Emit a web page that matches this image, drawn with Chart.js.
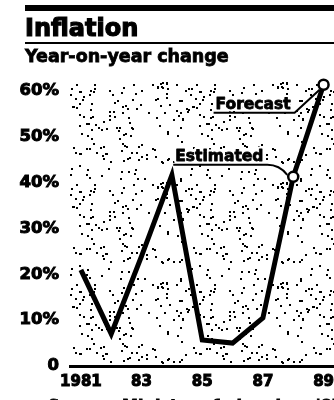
<!DOCTYPE html>
<html>
<head>
<meta charset="utf-8">
<script src="https://cdn.jsdelivr.net/npm/chart.js@4/dist/chart.umd.min.js"></script>
<style>
html,body{margin:0;padding:0;background:#fff;width:334px;height:400px;overflow:hidden;position:relative;font-family:"DejaVu Sans",sans-serif;font-weight:bold;color:#000}
#wrap{position:absolute;left:0;top:0;width:352px;height:400px}
.rule{position:absolute;left:25px;width:340px;background:#000}
.txt{position:absolute;left:25px;white-space:nowrap;z-index:2;-webkit-text-stroke:0.8px #000}
#title{top:16px;font-size:24px;line-height:24px;-webkit-text-stroke:1.2px #000}
#sub{top:48px;font-size:17.5px;line-height:17px}
#src{top:398px;left:48px;font-size:16px;line-height:16px}
</style>
</head>
<body>
<div class="rule" style="top:5px;height:6px"></div>
<div class="txt" id="title">Inflation</div>
<div class="rule" style="top:42px;height:2px"></div>
<div class="txt" id="sub">Year-on-year change</div>
<div id="wrap"><canvas id="c" width="352" height="400"></canvas></div>
<div class="txt" id="src">Source: Ministry of planning; '87 estimated</div>
<script>
// ---- data ----
const years = [1981, 1982, 1983, 1984, 1985, 1986, 1987, 1988, 1989];
const inflation = [21, 7, 24, 41.7, 5.7, 5, 10.5, 41.3, 61.4];
const notes = ['', '', '', '', '', '', '', 'Estimated', 'Forecast'];
const yTicks = [0, 10, 20, 30, 40, 50, 60];
const yTickLabels = ['0', '10%', '20%', '30%', '40%', '50%', '60%'];
const xTicks = [1981, 1983, 1985, 1987, 1989];
const xTickLabels = ['1981', '83', '85', '87', '89'];

const FONT = '"DejaVu Sans", sans-serif';

// decorative stipple texture (deterministic hash placement; purely a background style)
function makeStipple(ctx) {
  const W = 120, H = 100;
  const c = document.createElement('canvas');
  c.width = W; c.height = H;
  const g = c.getContext('2d');
  g.fillStyle = '#000';
  const h = v => { const s = Math.sin(v) * 43758.5453; return s - Math.floor(s); };
  for (let i = 1; i <= 165; i++) {
    const x = Math.floor(h(i * 12.9898) * (W - 1));
    const y = Math.floor(h(i * 78.233) * (H - 1));
    g.fillRect(x, y, 2, 2);
  }
  return ctx.createPattern(c, 'repeat');
}

const stipplePlugin = {
  id: 'stipple',
  beforeDatasetsDraw(chart) {
    const {ctx, chartArea: a} = chart;
    ctx.save();
    ctx.fillStyle = makeStipple(ctx);
    ctx.translate(a.left, a.top);
    ctx.fillRect(0, 0, a.right - a.left, a.bottom - a.top);
    ctx.restore();
  }
};

// label layout relative to the noted point (style only)
const noteStyle = {
  'Forecast':  {dx: -108, uy: 28, tail: 'line'},
  'Estimated': {dx: -118, uy: -12, tail: 'curve'}
};

const notePlugin = {
  id: 'notes',
  afterDatasetsDraw(chart) {
    const {ctx, scales} = chart;
    ctx.save();
    ctx.font = 'bold 15.5px ' + FONT;
    ctx.textBaseline = 'alphabetic';
    ctx.lineJoin = 'round';
    notes.forEach((n, i) => {
      if (!n) return;
      const st = noteStyle[n];
      const px = scales.x.getPixelForValue(years[i]);
      const py = scales.y.getPixelForValue(inflation[i]);
      const tx = px + st.dx;
      const uy = py + st.uy;
      const w = ctx.measureText(n).width;
      ctx.strokeStyle = '#fff';
      ctx.lineWidth = 5;
      ctx.strokeText(n, tx, uy - 4);
      ctx.strokeStyle = '#000';
      ctx.lineWidth = 0.8;
      ctx.strokeText(n, tx, uy - 4);
      ctx.fillStyle = '#000';
      ctx.fillText(n, tx, uy - 4);
      ctx.lineWidth = 2;
      ctx.beginPath();
      ctx.moveTo(tx - 2, uy);
      const ex = tx + w + 4;
      ctx.lineTo(ex, uy);
      if (st.tail === 'line') {
        ctx.lineTo(px - 4, py + 5);
      } else {
        ctx.quadraticCurveTo(ex + 12, uy, px - 6, py - 2);
      }
      ctx.stroke();
    });
    ctx.restore();
  }
};

new Chart(document.getElementById('c'), {
  type: 'line',
  data: {
    datasets: [{
      data: years.map((y, i) => ({x: y, y: inflation[i]})),
      borderColor: '#000',
      borderWidth: 5,
      tension: 0,
      clip: false,
      pointRadius: ctx => notes[ctx.dataIndex] ? 5 : 0,
      pointBorderWidth: 2.5,
      pointBackgroundColor: '#fff',
      pointBorderColor: '#000',
      borderJoinStyle: 'miter'
    }]
  },
  options: {
    responsive: false,
    animation: false,
    events: [],
    layout: {padding: {top: 82, right: 2, bottom: 0, left: 0}},
    plugins: {legend: {display: false}, tooltip: {enabled: false}},
    scales: {
      x: {
        type: 'linear',
        min: 1980.641,
        max: 1989.69,
        grid: {display: false},
        border: {display: true, color: '#000', width: 3},
        afterBuildTicks: s => { s.ticks = xTicks.map(v => ({value: v})); },
        afterFit: s => { s.height = 34; s.paddingLeft = 0; s.paddingRight = 0; },
        ticks: {
          autoSkip: false, maxRotation: 0, padding: -1, color: '#000',
          textStrokeColor: '#000', textStrokeWidth: 1,
          font: {family: FONT, size: 15, weight: 'bold'},
          callback: v => xTickLabels[xTicks.indexOf(v)]
        }
      },
      y: {
        min: 0,
        max: 62,
        grid: {display: false},
        border: {display: false},
        afterBuildTicks: s => { s.ticks = yTicks.map(v => ({value: v})); },
        afterFit: s => { s.width = 70; },
        ticks: {
          padding: 3, color: '#000',
          textStrokeColor: '#000', textStrokeWidth: 1,
          font: {family: FONT, size: 16.5, weight: 'bold'},
          callback: v => yTickLabels[yTicks.indexOf(v)]
        }
      }
    }
  },
  plugins: [stipplePlugin, notePlugin]
});
</script>
</body>
</html>
